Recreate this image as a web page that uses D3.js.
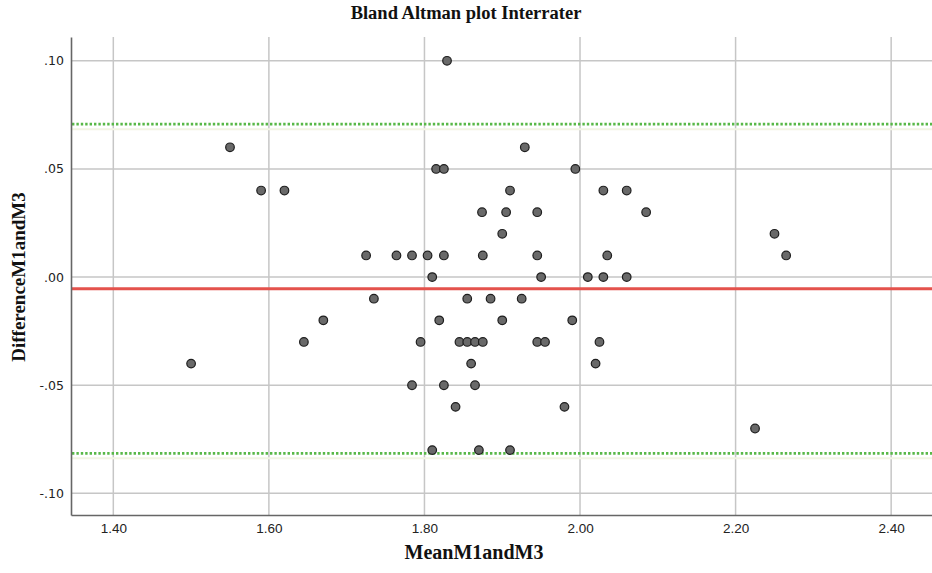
<!DOCTYPE html>
<html>
<head>
<meta charset="utf-8">
<script src="https://cdn.jsdelivr.net/npm/d3@7"></script>
<style>
body { margin: 0; background: #fff; }
.tick text { fill: #222; }
</style>
</head>
<body>
<script>
// mean of M1 and M3 (x) and difference (y)
var meanVals = [1.50, 1.55, 1.59, 1.62, 1.645, 1.67, 1.725, 1.735, 1.764, 1.784,
    1.784, 1.795, 1.804, 1.81, 1.81, 1.815, 1.819, 1.825, 1.825, 1.825,
    1.829, 1.84, 1.845, 1.855, 1.855, 1.86, 1.865, 1.865, 1.87, 1.874,
    1.875, 1.875, 1.885, 1.90, 1.90, 1.905, 1.91, 1.91, 1.925, 1.929,
    1.945, 1.945, 1.945, 1.95, 1.955, 1.98, 1.99, 1.994, 2.01, 2.02,
    2.025, 2.03, 2.03, 2.035, 2.06, 2.06, 2.085, 2.225, 2.25, 2.265];
var diffVals = [-0.04, 0.06, 0.04, 0.04, -0.03, -0.02, 0.01, -0.01, 0.01, 0.01,
    -0.05, -0.03, 0.01, 0.00, -0.08, 0.05, -0.02, 0.05, 0.01, -0.05,
    0.10, -0.06, -0.03, -0.01, -0.03, -0.04, -0.03, -0.05, -0.08, 0.03,
    0.01, -0.03, -0.01, 0.02, -0.02, 0.03, 0.04, -0.08, -0.01, 0.06,
    0.03, 0.01, -0.03, 0.00, -0.03, -0.06, -0.02, 0.05, 0.00, -0.04,
    -0.03, 0.04, 0.00, 0.01, 0.04, 0.00, 0.03, -0.07, 0.02, 0.01];
var meanDiff = -0.0054;
var limits = [0.0707, -0.0815];
var xTicks = [1.40, 1.60, 1.80, 2.00, 2.20, 2.40];
var yTicks = [0.10, 0.05, 0.00, -0.05, -0.10];

var width = 932, height = 573;
var plotLeft = 71, plotRight = 932, plotTop = 37, plotBottom = 515;

var svg = d3.select("body").append("svg").attr("width", width).attr("height", height);

var x = d3.scaleLinear().domain([1.3456, 2.4525]).range([plotLeft, plotRight]);
var y = d3.scaleLinear().domain([-0.110, 0.111]).range([plotBottom, plotTop]);

// grid
svg.append("g").selectAll("line").data(xTicks).enter().append("line")
    .attr("x1", d => x(d)).attr("x2", d => x(d))
    .attr("y1", plotTop).attr("y2", plotBottom)
    .attr("stroke", "#c6c6c6").attr("stroke-width", 1.5);
svg.append("g").selectAll("line").data(yTicks).enter().append("line")
    .attr("x1", plotLeft).attr("x2", plotRight)
    .attr("y1", d => y(d)).attr("y2", d => y(d))
    .attr("stroke", "#c6c6c6").attr("stroke-width", 1.5);

// limits of agreement
svg.append("g").selectAll("line").data(limits).enter().append("line")
    .attr("x1", plotLeft).attr("x2", plotRight)
    .attr("y1", d => y(d) + 5).attr("y2", d => y(d) + 5)
    .attr("stroke", "#f2f4e4").attr("stroke-width", 2);
svg.append("g").selectAll("line").data(limits).enter().append("line")
    .attr("x1", plotLeft + 1).attr("x2", plotRight)
    .attr("y1", d => y(d)).attr("y2", d => y(d))
    .attr("stroke", "#58b848").attr("stroke-width", 2.6)
    .attr("stroke-dasharray", "2.4,2");

svg.append("line")
    .attr("x1", plotLeft + 1).attr("x2", plotRight)
    .attr("y1", y(meanDiff)).attr("y2", y(meanDiff))
    .attr("stroke", "#e4524c").attr("stroke-width", 3);

// axes
var xAxis = svg.append("g").attr("transform", "translate(0," + plotBottom + ")")
    .call(d3.axisBottom(x).tickValues(xTicks).tickSize(0).tickPadding(8).tickFormat(d3.format(".2f")));
xAxis.select(".domain").attr("stroke", "#666").attr("stroke-width", 1.6);
xAxis.selectAll("text").style("font-family", "'Liberation Sans Narrow', 'Arial Narrow', sans-serif").style("font-size", "13.5px");

var yAxis = svg.append("g").attr("transform", "translate(" + plotLeft + ",0)")
    .call(d3.axisLeft(y).tickValues(yTicks).tickSize(0).tickPadding(7)
        .tickFormat(d => d3.format(".2f")(d).replace("0.", ".").replace("−", "-")));
yAxis.select(".domain").attr("stroke", "#666").attr("stroke-width", 1.6);
yAxis.selectAll("text").style("font-family", "'DejaVu Sans', sans-serif").style("font-size", "12.5px");

// points
var pts = meanVals.map(function(m, i) { return { m: m, d: diffVals[i] }; });
svg.append("g").selectAll("circle").data(pts).enter().append("circle")
    .attr("cx", d => x(d.m)).attr("cy", d => y(d.d)).attr("r", 4.3)
    .attr("fill", "#696969").attr("stroke", "#1e1e1e").attr("stroke-width", 1.2);

// titles
var labelFont = "'Liberation Serif', 'DejaVu Serif', serif";
svg.append("text").attr("x", 466).attr("y", 19).attr("text-anchor", "middle")
    .style("font-family", labelFont).style("font-weight", "bold").style("font-size", "18.5px")
    .attr("fill", "#111").text("Bland Altman plot Interrater");
svg.append("text").attr("x", 474).attr("y", 559).attr("text-anchor", "middle")
    .style("font-family", labelFont).style("font-weight", "bold").style("font-size", "20px")
    .attr("fill", "#111").text("MeanM1andM3");
svg.append("text").attr("transform", "translate(25,277) rotate(-90)").attr("text-anchor", "middle")
    .style("font-family", labelFont).style("font-weight", "bold").style("font-size", "19px")
    .attr("fill", "#111").text("DifferenceM1andM3");
</script>
</body>
</html>
